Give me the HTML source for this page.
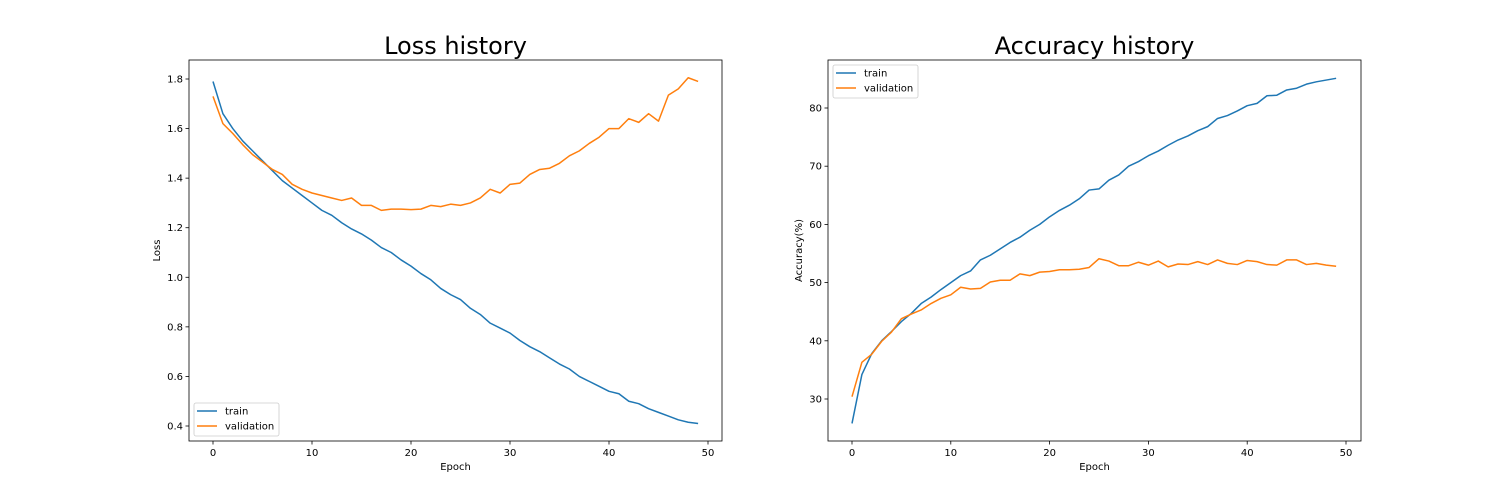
<!DOCTYPE html>
<html><head><meta charset="utf-8"><style>
html,body{margin:0;padding:0;background:#fff;}
svg{display:block;font-family:"DejaVu Sans","Liberation Sans",sans-serif;}
</style></head><body>
<svg id="fig" width="1512" height="504" viewBox="0 0 1512 504"></svg>
<script>
const epochs = Array.from({length:50},(_,i)=>i);
const lossTrain = [1.79,1.66,1.60,1.55,1.51,1.47,1.43,1.39,1.36,1.33,1.30,1.27,1.25,1.22,1.195,1.175,1.15,1.12,1.10,1.07,1.045,1.015,0.99,0.955,0.93,0.91,0.875,0.85,0.815,0.795,0.775,0.745,0.72,0.70,0.675,0.65,0.63,0.60,0.58,0.56,0.54,0.53,0.50,0.49,0.47,0.455,0.44,0.425,0.415,0.41];
const lossVal = [1.73,1.62,1.58,1.535,1.495,1.465,1.435,1.415,1.375,1.355,1.34,1.33,1.32,1.31,1.32,1.29,1.29,1.27,1.275,1.275,1.273,1.275,1.29,1.285,1.295,1.29,1.30,1.32,1.355,1.34,1.375,1.38,1.415,1.435,1.44,1.46,1.49,1.51,1.54,1.565,1.60,1.60,1.64,1.625,1.66,1.63,1.735,1.76,1.805,1.79];
const accTrain = [25.8,34.2,37.8,40.0,41.6,43.3,44.7,46.4,47.5,48.8,50.0,51.2,52.0,53.9,54.7,55.8,56.9,57.8,59.0,60.0,61.3,62.4,63.3,64.4,65.9,66.1,67.6,68.5,70.0,70.8,71.8,72.6,73.6,74.5,75.2,76.1,76.8,78.2,78.7,79.5,80.4,80.8,82.1,82.2,83.1,83.4,84.1,84.5,84.8,85.1];
const accVal = [30.4,36.3,37.7,39.9,41.5,43.8,44.6,45.3,46.4,47.3,47.9,49.2,48.9,49.0,50.1,50.4,50.4,51.5,51.2,51.8,51.9,52.2,52.2,52.3,52.6,54.1,53.7,52.9,52.9,53.5,53.0,53.7,52.7,53.2,53.1,53.6,53.1,53.9,53.3,53.1,53.8,53.6,53.1,53.0,53.9,53.9,53.1,53.3,53.0,52.8];
const xTicks = [0,10,20,30,40,50];
const lossTicks = [0.4,0.6,0.8,1.0,1.2,1.4,1.6,1.8];
const accTicks = [30,40,50,60,70,80];

const NS="http://www.w3.org/2000/svg";
const svg=document.getElementById('fig');
function mk(tag,attrs,parent){const e=document.createElementNS(NS,tag);for(const k in attrs)e.setAttribute(k,attrs[k]);(parent||svg).appendChild(e);return e;}

function panel(cfg){
  const g=mk('g',{});
  
  
  const L=cfg.left,R=cfg.right,T=60,B=441;
  const xs=v=>cfg.x0+(v-0)*(cfg.x50-cfg.x0)/50;
  const ys=v=>cfg.yA+(v-cfg.vA)*(cfg.yB-cfg.yA)/(cfg.vB-cfg.vA);
  const frame=mk('rect',{x:L,y:T,width:R-L,height:B-T,fill:'none',stroke:'#000','stroke-width':0.8},g);
  
  
  xTicks.forEach(t=>{
    const x=xs(t);
    mk('line',{x1:x,y1:B,x2:x,y2:B+3.5,stroke:'#000','stroke-width':0.8},g);
    const tx=mk('text',{x:x,y:B+15,'font-size':10,'text-anchor':'middle'},g);
    tx.textContent=t;
    
    
  });
  cfg.yTicks.forEach(t=>{
    const y=ys(t);
    mk('line',{x1:L-3.5,y1:y,x2:L,y2:y,stroke:'#000','stroke-width':0.8},g);
    const tx=mk('text',{x:L-6,y:y+3.5,'font-size':10,'text-anchor':'end'},g);
    tx.textContent=cfg.fmt(t);
    
    
  });
  const xl=mk('text',{x:(L+R)/2,y:470,'font-size':10,'text-anchor':'middle'},g);
  xl.textContent='Epoch';
  
  
  const yl=mk('text',{x:0,y:0,'font-size':10,'text-anchor':'middle',transform:`translate(${cfg.ylx},${(T+B)/2}) rotate(-90)`},g);
  yl.textContent=cfg.ylabel;
  
  
  const ti=mk('text',{x:(L+R)/2,y:54,'font-size':24,'text-anchor':'middle'},g);
  ti.textContent=cfg.title;
  
  
  [[cfg.a,'#1f77b4','train-line'],[cfg.b,'#ff7f0e','validation-line']].forEach(([arr,c,n])=>{
    const p=mk('polyline',{points:arr.map((v,i)=>xs(epochs[i])+','+ys(v)).join(' '),fill:'none',stroke:c,'stroke-width':1.5,'stroke-linejoin':'round'},g);
    
    
  });
  const lg=mk('g',{},g);
  
  
  const lx=cfg.lgx,ly=cfg.lgy;
  mk('rect',{x:lx,y:ly,width:85,height:33,rx:2,fill:'#fff',stroke:'#ccc','stroke-width':0.8},lg);
  [['train','#1f77b4'],['validation','#ff7f0e']].forEach(([t,c],i)=>{
    const yy=ly+8+i*15;
    mk('line',{x1:lx+3,y1:yy,x2:lx+23,y2:yy,stroke:c,'stroke-width':1.5},lg);
    const tx=mk('text',{x:lx+31,y:yy+3.5,'font-size':10},lg);
    tx.textContent=t;
    
    
  });
}
panel({name:'loss-chart',left:189,right:722,x0:213,x50:708,vA:1.8,yA:79,vB:0.4,yB:426,yTicks:lossTicks,fmt:v=>v.toFixed(1),a:lossTrain,b:lossVal,ylabel:'Loss',ylx:160,title:'Loss history',lgx:194,lgy:403});
panel({name:'accuracy-chart',left:828,right:1361,x0:852,x50:1346,vA:80,yA:108,vB:30,yB:399,yTicks:accTicks,fmt:v=>String(v),a:accTrain,b:accVal,ylabel:'Accuracy(%)',ylx:802,title:'Accuracy history',lgx:833,lgy:65});
</script>
</body></html>
